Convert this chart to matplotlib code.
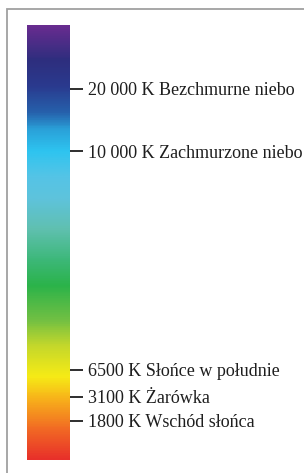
import matplotlib
matplotlib.use("Agg")
import matplotlib.pyplot as plt
import numpy as np
from matplotlib.colors import LinearSegmentedColormap
from matplotlib.patches import Rectangle

# gradient stops (fraction from top of bar, colour)
stop_pos = [0.00, 0.08, 0.14, 0.20, 0.24, 0.29, 0.35, 0.40, 0.47, 0.54,
            0.60, 0.68, 0.74, 0.81, 0.86, 0.93, 1.00]
stop_colors = ["#6a2c90", "#2e2e7e", "#2a3a8e", "#2660ab", "#2aa0d8", "#2ec4f0",
               "#55c4e6", "#5ec3dc", "#60c0b0", "#3db87a", "#2bb34a", "#72c043",
               "#c5d82b", "#f6eb16", "#f8b41a", "#f26b24", "#e8302a"]

# labels and their place on the bar (fraction from top)
tick_pos = [0.147, 0.290, 0.793, 0.855, 0.910]
tick_labels = ["20 000 K Bezchmurne niebo", "10 000 K Zachmurzone niebo",
               "6500 K Słońce w południe", "3100 K Żarówka", "1800 K Wschód słońca"]

W, H = 304, 473
fig = plt.figure(figsize=(W / 100, H / 100), dpi=100)
fig.patch.set_facecolor("white")

# outer frame
fig.patches.append(Rectangle((7 / W, -0.05), 1.2, (H - 9) / H + 0.05,
                             transform=fig.transFigure, fill=False,
                             edgecolor="#a0a0a0", linewidth=1.3))

cmap = LinearSegmentedColormap.from_list("kelvin", list(zip(stop_pos, stop_colors)))

ax = fig.add_axes([27 / W, 13 / H, 43 / W, 435 / H])
grad = np.linspace(0, 1, 500).reshape(-1, 1)
ax.imshow(grad, aspect="auto", cmap=cmap, extent=[0, 1, 1, 0])
ax.set_xlim(0, 1)
ax.set_ylim(1, 0)
ax.set_xticks([])
for s in ax.spines.values():
    s.set_visible(False)

ax.yaxis.tick_right()
ax.set_yticks(tick_pos)
ax.set_yticklabels(tick_labels, family="Liberation Serif",
                   fontsize=13, color="#1e1e1e")
ax.tick_params(axis="y", length=9.5, width=1.3, pad=3.5, color="#1e1e1e")

fig.savefig("out.png", dpi=100)
